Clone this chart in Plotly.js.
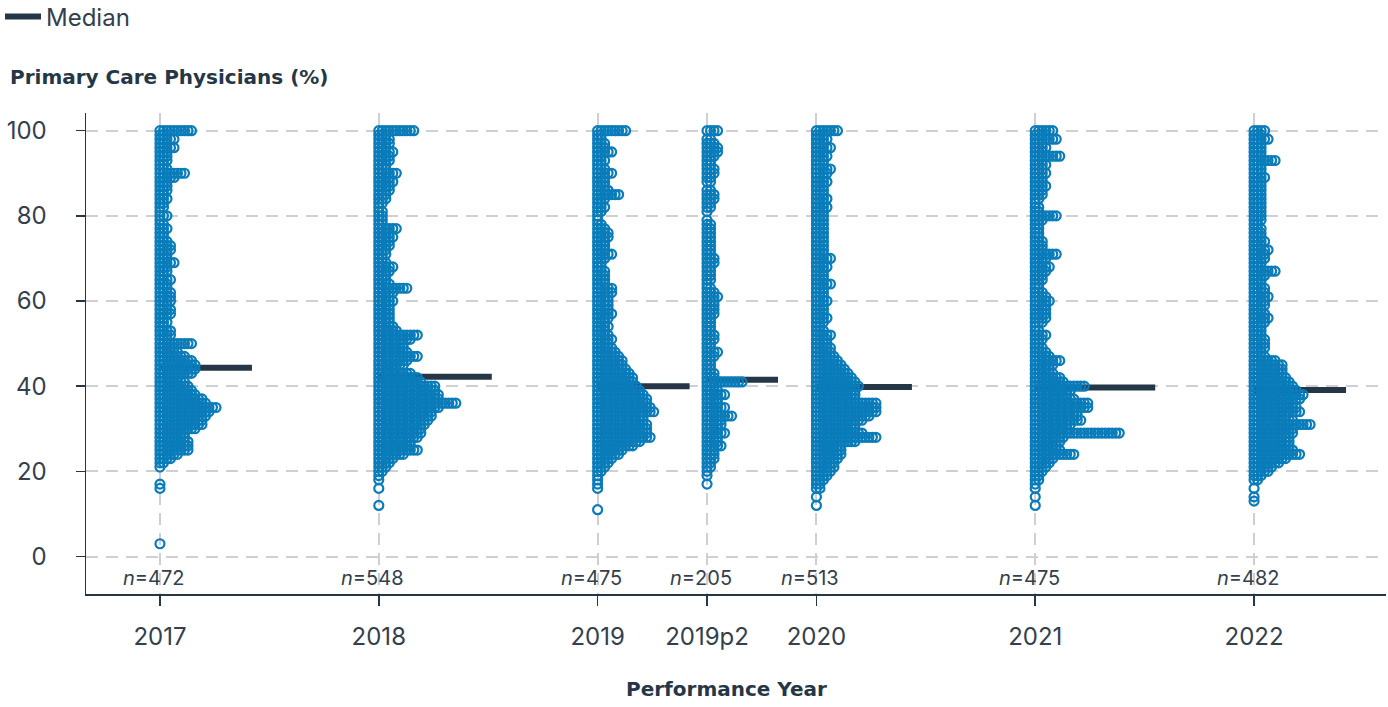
<!DOCTYPE html>
<html><head><meta charset="utf-8">
<script src="https://cdn.plot.ly/plotly-3.0.1.min.js"></script>
<style>html,body{margin:0;padding:0;background:#fff}#chart{width:1388px;height:707px}</style>
</head><body><div id="chart"></div>
<script>
// ---- data ----
const categories = ['2017','2018','2019','2019p2','2020','2021','2022'];
const nCounts = [472,548,475,205,513,475,482];
const medians = [44.3,42.2,40.0,41.5,39.8,39.7,39.1];

// [value (%), number of organisations at that value]
const dist2017 = [[3,1],[16,1],[17,1],[21,1],[22,2],[23,4],[24,6],[25,9],[26,9],[27,9],[28,8],[29,8],[30,11],[31,13],[32,13],[33,14],[34,15],[35,17],[36,14],[37,13],[38,11],[39,10],[40,9],[41,8],[42,6],[43,10],[44,11],[45,11],[46,10],[47,8],[48,6],[49,5],[50,10],[51,3],[52,4],[53,4],[54,2],[55,3],[56,2],[57,4],[58,4],[59,3],[60,4],[61,4],[62,4],[63,3],[64,3],[65,4],[66,2],[67,3],[68,3],[69,5],[70,3],[71,3],[72,4],[73,4],[74,3],[75,2],[76,2],[77,3],[78,2],[79,1],[80,3],[81,1],[82,2],[83,2],[84,3],[85,2],[86,3],[87,3],[88,3],[89,5],[90,8],[91,3],[92,2],[93,3],[94,3],[95,3],[96,5],[97,3],[98,5],[99,2],[100,10]];
const dist2018 = [[12,1],[16,1],[18,1],[19,1],[20,2],[21,3],[22,4],[23,5],[24,8],[25,12],[26,10],[27,10],[28,12],[29,13],[30,13],[31,14],[32,15],[33,16],[34,16],[35,18],[36,23],[37,18],[38,18],[39,17],[40,17],[41,13],[42,12],[43,10],[44,6],[45,8],[46,9],[47,12],[48,9],[49,8],[50,8],[51,10],[52,12],[53,6],[54,5],[55,4],[56,4],[57,4],[58,4],[59,4],[60,5],[61,4],[62,5],[63,9],[64,4],[65,3],[66,3],[67,4],[68,5],[69,3],[70,2],[71,3],[72,3],[73,4],[74,4],[75,5],[76,4],[77,6],[78,2],[79,2],[80,2],[81,2],[82,1],[83,2],[84,3],[85,3],[86,4],[87,4],[88,5],[89,4],[90,6],[91,3],[92,3],[93,4],[94,4],[95,5],[96,3],[97,4],[98,4],[99,3],[100,11]];
const dist2019 = [[11,1],[16,1],[17,1],[18,1],[19,1],[20,2],[21,3],[22,4],[23,5],[24,7],[25,8],[26,11],[27,13],[28,16],[29,15],[30,15],[31,15],[32,14],[33,14],[34,17],[35,16],[36,15],[37,15],[38,14],[39,13],[40,12],[41,11],[42,11],[43,10],[44,9],[45,8],[46,8],[47,7],[48,6],[49,5],[50,4],[51,5],[52,4],[53,3],[54,4],[55,3],[56,4],[57,5],[58,4],[59,4],[60,4],[61,4],[62,5],[63,5],[64,3],[65,3],[66,3],[67,3],[68,2],[69,2],[70,3],[71,5],[72,3],[73,3],[74,3],[75,4],[76,4],[77,3],[78,2],[79,1],[80,1],[81,2],[82,3],[83,2],[84,3],[85,7],[86,4],[87,3],[88,3],[89,3],[90,5],[91,3],[92,2],[93,3],[94,2],[95,5],[96,3],[97,3],[98,2],[99,2],[100,9]];
const dist2019p2 = [[17,1],[19,1],[20,1],[21,2],[22,2],[23,3],[24,3],[25,3],[26,5],[27,4],[28,4],[29,6],[30,4],[31,5],[32,5],[33,8],[34,4],[35,6],[36,4],[37,4],[38,6],[39,4],[40,3],[41,11],[42,3],[43,3],[44,2],[45,2],[46,2],[47,3],[48,4],[49,2],[50,2],[51,3],[52,3],[53,2],[54,2],[55,2],[56,2],[57,3],[58,3],[59,3],[60,3],[61,4],[62,3],[63,2],[64,1],[65,2],[66,2],[67,2],[68,2],[69,3],[70,3],[71,2],[72,2],[73,2],[74,2],[75,2],[76,2],[77,2],[78,2],[79,1],[81,1],[82,2],[83,2],[84,3],[85,3],[86,2],[88,2],[89,2],[90,3],[91,3],[92,2],[93,2],[94,3],[95,4],[96,4],[97,3],[98,2],[100,4]];
const dist2020 = [[12,1],[14,1],[16,2],[17,2],[18,3],[19,4],[20,5],[21,6],[22,6],[23,7],[24,8],[25,8],[26,8],[27,12],[28,18],[29,14],[30,12],[31,12],[32,14],[33,16],[34,18],[35,18],[36,18],[37,12],[38,12],[39,12],[40,13],[41,12],[42,11],[43,10],[44,9],[45,8],[46,7],[47,6],[48,5],[49,5],[50,4],[51,4],[52,5],[53,3],[54,2],[55,3],[56,4],[57,3],[58,3],[59,3],[60,4],[61,3],[62,3],[63,3],[64,5],[65,3],[66,3],[67,3],[68,4],[69,3],[70,5],[71,3],[72,3],[73,3],[74,3],[75,3],[76,3],[77,3],[78,3],[79,3],[80,3],[81,3],[82,4],[83,3],[84,4],[85,3],[86,3],[87,3],[88,4],[89,3],[90,4],[91,5],[92,3],[93,3],[94,4],[95,3],[96,5],[97,3],[98,4],[99,3],[100,7]];
const dist2021 = [[12,1],[14,1],[16,1],[17,1],[18,2],[19,2],[20,3],[21,4],[22,5],[23,6],[24,12],[25,8],[26,7],[27,8],[28,9],[29,25],[30,10],[31,11],[32,14],[33,13],[34,13],[35,16],[36,16],[37,12],[38,10],[39,11],[40,15],[41,9],[42,8],[43,6],[44,5],[45,6],[46,8],[47,5],[48,4],[49,3],[50,2],[51,3],[52,4],[53,2],[54,1],[55,3],[56,4],[57,4],[58,4],[59,4],[60,5],[61,4],[62,3],[63,2],[64,2],[65,3],[66,3],[67,4],[68,5],[69,3],[70,4],[71,7],[72,3],[73,3],[74,3],[75,2],[76,2],[77,2],[78,2],[79,3],[80,7],[81,2],[82,2],[83,1],[84,2],[85,3],[86,3],[87,4],[88,3],[89,3],[90,4],[91,3],[92,4],[93,3],[94,8],[95,3],[96,4],[97,3],[98,7],[99,3],[100,6]];
const dist2022 = [[13,1],[14,1],[16,1],[18,2],[19,3],[20,5],[21,6],[22,8],[23,10],[24,14],[25,12],[26,11],[27,11],[28,11],[29,12],[30,12],[31,17],[32,12],[33,10],[34,14],[35,13],[36,12],[37,14],[38,15],[39,13],[40,12],[41,11],[42,10],[43,9],[44,9],[45,9],[46,7],[47,4],[48,3],[49,4],[50,4],[51,4],[52,3],[53,3],[54,3],[55,4],[56,5],[57,4],[58,3],[59,4],[60,4],[61,5],[62,4],[63,4],[64,3],[65,3],[66,4],[67,7],[68,3],[69,3],[70,4],[71,4],[72,5],[73,3],[74,4],[75,3],[76,3],[77,3],[78,2],[79,3],[80,3],[81,3],[82,3],[83,3],[84,3],[85,3],[86,3],[87,3],[88,3],[89,4],[90,3],[91,3],[92,3],[93,7],[94,3],[95,3],[96,3],[97,3],[98,5],[99,3],[100,4]];
const yTicks = [0,20,40,60,80,100];

// ---- layout ----
const distributions = [dist2017,dist2018,dist2019,dist2019p2,dist2020,dist2021,dist2022];
const catPos = [0,1,2,2.5,3,4,5];
const W = 1388, H = 707;
const M = {l:86, r:2, t:113, b:113};
const xRange = [-0.338, 5.603];
const yRange = [-8.8, 104.15];
const pxPerUnit = (W - M.l - M.r) / (xRange[1] - xRange[0]);
const STEP = 3.5 / pxPerUnit;
const BAR_PAD = 36 / pxPerUnit;

const BLUE = '#0a7cba', DARK = '#253746', TXT = '#34404d', GRID = '#cfcfd4';
const FONT = 'Inter, "Noto Sans", sans-serif';
const BOLD = '"DejaVu Sans", Inter, sans-serif';

const dx = [], dy = [];
const mx = [], my = [];
distributions.forEach((dist, i) => {
  let maxC = 0;
  dist.forEach(([v, c]) => {
    for (let k = 0; k < c; k++) { dx.push(catPos[i] + k * STEP); dy.push(v); }
    if (c > maxC) maxC = c;
  });
  mx.push(catPos[i], catPos[i] + (maxC - 1) * STEP + BAR_PAD, null);
  my.push(medians[i], medians[i], null);
});

const traces = [
  {x: mx, y: my, type: 'scatter', mode: 'lines', name: 'Median',
   line: {color: DARK, width: 6}, hoverinfo: 'skip', showlegend: true},
  {x: dx, y: dy, type: 'scatter', mode: 'markers', name: 'Organisations',
   marker: {symbol: 'circle-open', size: 9, color: BLUE, line: {width: 2.2, color: BLUE}},
   showlegend: false, hoverinfo: 'y'}
];

const annotations = categories.map((c, i) => ({
  x: catPos[i], y: -5, xref: 'x', yref: 'y', xshift: -6,
  text: '<i>n</i>=' + nCounts[i], showarrow: false,
  font: {family: FONT, size: 20, color: TXT}, xanchor: 'center', yanchor: 'middle'
}));
annotations.push({
  xref: 'paper', yref: 'paper', x: (8 - M.l) / (W - M.l - M.r), y: 1 + (M.t - 77) / (H - M.t - M.b),
  xanchor: 'left', yanchor: 'middle', showarrow: false,
  text: '<b>Primary Care Physicians (%)</b>', font: {family: BOLD, size: 20, color: DARK}
});
annotations.push({
  xref: 'paper', yref: 'paper', x: (726.5 - M.l) / (W - M.l - M.r), y: -(689 - (H - M.b)) / (H - M.t - M.b),
  xanchor: 'center', yanchor: 'middle', showarrow: false,
  text: '<b>Performance Year</b>', font: {family: BOLD, size: 20, color: DARK}
});

const layout = {
  width: W, height: H, margin: M,
  paper_bgcolor: '#fff', plot_bgcolor: '#fff',
  font: {family: FONT, color: TXT},
  showlegend: true,
  legend: {xref: 'container', yref: 'container', x: 0, y: 1 - 17 / H, xanchor: 'left', yanchor: 'middle',
           orientation: 'h', itemwidth: 36, font: {family: FONT, size: 24, color: TXT}, bgcolor: 'rgba(0,0,0,0)'},
  xaxis: {range: xRange, tickvals: catPos, ticktext: categories, showgrid: true,
          gridcolor: GRID, gridwidth: 2, griddash: '12px,8px', zeroline: false,
          showline: true, linecolor: DARK, linewidth: 1.5, ticks: 'outside', ticklen: 10,
          tickcolor: DARK, tickwidth: 1.5, ticklabelstandoff: 11,
          tickfont: {family: FONT, size: 24, color: TXT}, fixedrange: true},
  yaxis: {range: yRange, tickvals: yTicks, showgrid: true,
          gridcolor: GRID, gridwidth: 2, griddash: '12px,8px', zeroline: false,
          showline: true, linecolor: DARK, linewidth: 1.5, ticks: 'outside', ticklen: 9,
          tickcolor: DARK, tickwidth: 1.5, ticklabelposition: 'outside', ticklabelstandoff: 24,
          tickfont: {family: FONT, size: 24, color: TXT}, fixedrange: true},
  annotations: annotations
};

Plotly.newPlot('chart', traces, layout, {displayModeBar: false, staticPlot: true});
</script></body></html>
